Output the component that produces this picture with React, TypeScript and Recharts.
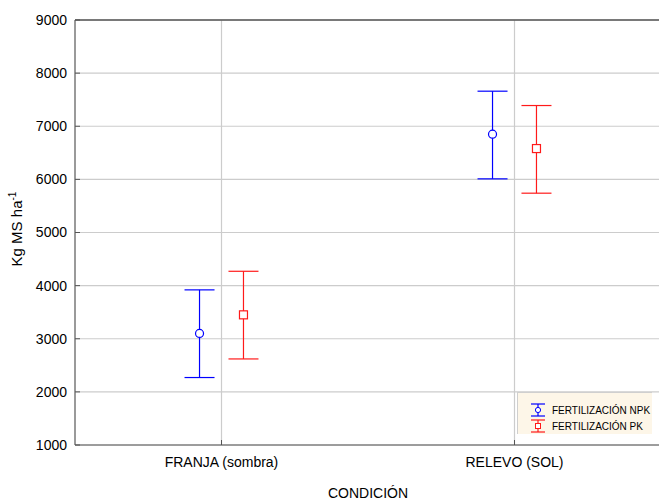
import React from 'react';
import { ComposedChart, Scatter, ErrorBar, XAxis, YAxis, CartesianGrid, ReferenceLine } from 'recharts';

const categories = ['FRANJA (sombra)', 'RELEVO (SOL)'];
const npkMean = [3100, 6850];
const npkLow = [2270, 6010];
const npkHigh = [3920, 7660];
const pkMean = [3450, 6580];
const pkLow = [2620, 5740];
const pkHigh = [4270, 7390];
const yTicks = [1000, 2000, 3000, 4000, 5000, 6000, 7000, 8000, 9000];
const xTicks = [0.5, 1.5];
const DODGE = 0.075;

const BLUE = '#0000ff';
const RED = '#ff1a1a';
const FONT = '"Liberation Sans", Arial, sans-serif';

const build = (mean: number[], low: number[], high: number[], shift: number) =>
  mean.map((m, i) => ({ x: i + 0.5 + shift, y: m, err: [m - low[i], high[i] - m] }));

const npkData = build(npkMean, npkLow, npkHigh, -DODGE);
const pkData = build(pkMean, pkLow, pkHigh, DODGE);

const CircleShape = (p: any) => <circle cx={p.cx} cy={p.cy} r={4} fill="#fff" stroke={BLUE} strokeWidth={1.2} />;
const SquareShape = (p: any) => <rect x={p.cx - 4} y={p.cy - 4} width={8} height={8} fill="#fff" stroke={RED} strokeWidth={1.2} />;

const LegendIcon = ({ color, square }: { color: string; square?: boolean }) => (
  <svg width={16} height={14} style={{ display: 'block' }}>
    <line x1={1} x2={15} y1={1} y2={1} stroke={color} strokeWidth={1.2} />
    <line x1={1} x2={15} y1={13} y2={13} stroke={color} strokeWidth={1.2} />
    <line x1={8} x2={8} y1={1} y2={13} stroke={color} strokeWidth={1.2} />
    {square ? (
      <rect x={5.5} y={4.5} width={5} height={5} fill="#fff" stroke={color} />
    ) : (
      <circle cx={8} cy={7} r={2.6} fill="#fff" stroke={color} />
    )}
  </svg>
);

const LegendBox = () => (
  <div
    style={{
      position: 'absolute',
      left: 517,
      top: 392,
      width: 135,
      height: 42,
      background: '#fdf6e8',
      borderLeft: '1px solid #cfcfcf',
      borderTop: '1px solid #cfcfcf',
      boxSizing: 'border-box',
      padding: '10px 0 0 12px',
      fontFamily: FONT,
      fontSize: 10,
      color: '#000',
    }}
  >
    <div style={{ display: 'flex', alignItems: 'center', height: 14, marginBottom: 2 }}>
      <LegendIcon color={BLUE} />
      <span style={{ marginLeft: 6 }}>FERTILIZACIÓN NPK</span>
    </div>
    <div style={{ display: 'flex', alignItems: 'center', height: 14 }}>
      <LegendIcon color={RED} square />
      <span style={{ marginLeft: 6 }}>FERTILIZACIÓN PK</span>
    </div>
  </div>
);

const YLabel = () => (
  <text x={22} y={229} transform="rotate(-90 22 229)" textAnchor="middle" fontFamily={FONT} fontSize={15} fill="#000">
    Kg MS ha
    <tspan dy={-6} fontSize={10}>-1</tspan>
  </text>
);

export default function App() {
  return (
    <div style={{ position: 'absolute', left: 0, top: 0, width: 659, height: 501, overflow: 'hidden', background: '#fff' }}>
      <ComposedChart width={665} height={501} margin={{ top: 20, right: 4, left: 0, bottom: 0 }}>
        <CartesianGrid stroke="#cccccc" strokeWidth={1.2} />
        <XAxis
          type="number"
          dataKey="x"
          domain={[0, 2]}
          ticks={xTicks}
          tickFormatter={(v: number) => categories[Math.floor(v)]}
          height={56}
          tickSize={-5}
          tickMargin={17}
          stroke="#555"
          tick={{ fill: '#000', fontSize: 14, fontFamily: FONT }}
          label={{ value: 'CONDICIÓN', position: 'insideBottom', offset: 3, fill: '#000', fontSize: 14, fontFamily: FONT }}
          allowDataOverflow
        />
        <YAxis
          type="number"
          dataKey="y"
          domain={[1000, 9000]}
          ticks={yTicks}
          width={75}
          tickSize={-5}
          tickMargin={13}
          stroke="#555"
          tick={{ fill: '#000', fontSize: 14, fontFamily: FONT }}
          label={<YLabel />}
          allowDataOverflow
        />
        <ReferenceLine y={9000} stroke="#555" strokeWidth={1.5} />
        <Scatter name="FERTILIZACIÓN NPK" data={npkData} dataKey="y" shape={CircleShape} isAnimationActive={false}>
          <ErrorBar dataKey="err" direction="y" width={15} stroke={BLUE} strokeWidth={1.2} isAnimationActive={false} />
        </Scatter>
        <Scatter name="FERTILIZACIÓN PK" data={pkData} dataKey="y" shape={SquareShape} isAnimationActive={false}>
          <ErrorBar dataKey="err" direction="y" width={15} stroke={RED} strokeWidth={1.2} isAnimationActive={false} />
        </Scatter>
      </ComposedChart>
      <LegendBox />
    </div>
  );
}
